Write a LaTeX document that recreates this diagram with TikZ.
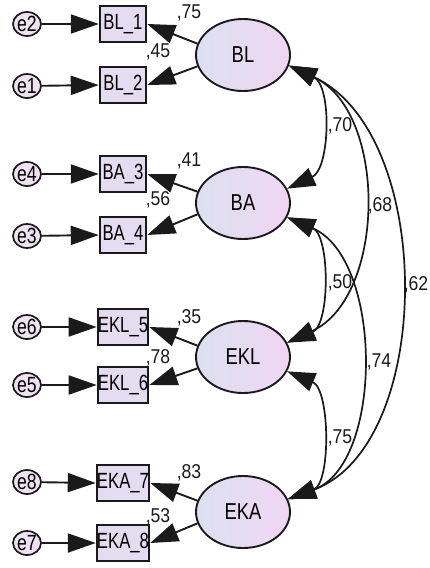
\documentclass[tikz,border=0pt]{standalone}
\usepackage{fontspec}
\setmainfont{Liberation Sans}
\usetikzlibrary{arrows.meta,shapes.geometric}
\definecolor{latL}{HTML}{DCE0F0}
\definecolor{latR}{HTML}{F0D6F2}
\definecolor{obsC}{HTML}{E4DCF0}
\definecolor{errC}{HTML}{F0E2F2}
\definecolor{ink}{HTML}{1A1A1A}
\newcommand\hsq[2]{\scalebox{#1}[1]{#2}}
\begin{document}
\begin{tikzpicture}[x=1pt,y=-1pt,
  lat/.style={ellipse, draw=ink, line width=1.9pt, minimum width=94pt, minimum height=72pt, inner sep=0pt, left color=latL, right color=latR, font=\fontsize{23}{23}\selectfont},
  obs/.style={rectangle, draw=ink, line width=2.4pt, minimum width=46pt, minimum height=36pt, inner sep=0pt, fill=obsC, font=\fontsize{22}{22}\selectfont},
  err/.style={ellipse, draw=ink, line width=1.7pt, minimum width=28pt, minimum height=24pt, inner sep=0pt, fill=errC, font=\fontsize{22}{22}\selectfont},
  reg/.style={draw=ink, line width=1.9pt, -{Triangle[length=28pt,width=19pt]}},
  cov/.style={draw=ink, line width=1.7pt, {Triangle[length=28pt,width=19pt]}-{Triangle[length=28pt,width=19pt]}},
  coef/.style={font=\fontsize{20}{20}\selectfont, inner sep=0pt, text=ink}
]
\useasboundingbox (0,0) rectangle (429,568);

% latent variables
\node[lat] (BL)  at (243,55)  {\hsq{0.8}{BL}};
\node[lat] (BA)  at (243,203) {\hsq{0.8}{BA}};
\node[lat] (EKL) at (243,357) {\hsq{0.8}{EKL}};
\node[lat] (EKA) at (243,512) {\hsq{0.8}{EKA}};

% observed variables
\node[obs] (BL1)  at (123,24)  {\hsq{0.76}{BL\_1}};
\node[obs] (BL2)  at (123,85)  {\hsq{0.76}{BL\_2}};
\node[obs] (BA3)  at (123,174) {\hsq{0.76}{BA\_3}};
\node[obs] (BA4)  at (123,235) {\hsq{0.76}{BA\_4}};
\node[obs] (EKL5) at (123,327) {\hsq{0.76}{EKL\_5}};
\node[obs] (EKL6) at (123,385) {\hsq{0.76}{EKL\_6}};
\node[obs] (EKA7) at (123,483) {\hsq{0.76}{EKA\_7}};
\node[obs] (EKA8) at (123,543) {\hsq{0.76}{EKA\_8}};

% errors
\node[err] (e2) at (27,24)  {\hsq{0.8}{e2}};
\node[err] (e1) at (27,86)  {\hsq{0.8}{e1}};
\node[err] (e4) at (27,174) {\hsq{0.8}{e4}};
\node[err] (e3) at (27,236) {\hsq{0.8}{e3}};
\node[err] (e6) at (27,327) {\hsq{0.8}{e6}};
\node[err] (e5) at (27,385) {\hsq{0.8}{e5}};
\node[err] (e8) at (27,482) {\hsq{0.8}{e8}};
\node[err] (e7) at (27,543) {\hsq{0.8}{e7}};

% error arrows
\foreach \e/\b in {e2/BL1,e1/BL2,e4/BA3,e3/BA4,e6/EKL5,e5/EKL6,e8/EKA7,e7/EKA8}
  \draw[reg] (\e) -- (\b.west);

% loadings
\foreach \l/\u/\d in {BL/BL1/BL2,BA/BA3/BA4,EKL/EKL5/EKL6,EKA/EKA7/EKA8}{
  \draw[reg] (\l.166) -- (\u.east);
  \draw[reg] (\l.194) -- (\d.east);
}

% covariances
\draw[cov] (BL.-13) .. controls +(43,20) and +(43,-20) .. (BA.18);
\draw[cov] (BL.-13) .. controls +(99,46) and +(99,-46) .. (EKL.18);
\draw[cov] (BL.-13) .. controls +(147,68) and +(147,-54) .. (EKA.16);
\draw[cov] (BA.-18) .. controls +(43,18) and +(43,-18) .. (EKL.18);
\draw[cov] (BA.-18) .. controls +(96,41) and +(96,-35) .. (EKA.16);
\draw[cov] (EKL.-18) .. controls +(43,18) and +(43,-16) .. (EKA.16);

% loading coefficients
\node[coef] (c1) at (189,13)  {\hsq{0.88}{,75}};
\node[coef] (c2) at (158,52)  {\hsq{0.88}{,45}};
\node[coef] (c3) at (189,161) {\hsq{0.88}{,41}};
\node[coef] (c4) at (158,200) {\hsq{0.88}{,56}};
\node[coef] (c5) at (189,318) {\hsq{0.88}{,35}};
\node[coef] (c6) at (158,358) {\hsq{0.88}{,78}};
\node[coef] (c7) at (189,473) {\hsq{0.88}{,83}};
\node[coef] (c8) at (158,517) {\hsq{0.88}{,53}};

% correlation coefficients
\node[coef] (r1) at (340,126) {\hsq{0.88}{,70}};
\node[coef] (r2) at (380,206) {\hsq{0.88}{,68}};
\node[coef] (r3) at (416,285) {\hsq{0.88}{,62}};
\node[coef] (r4) at (340,283) {\hsq{0.88}{,50}};
\node[coef] (r5) at (379,362) {\hsq{0.88}{,74}};
\node[coef] (r6) at (340,438) {\hsq{0.88}{,75}};
\end{tikzpicture}
\end{document}
